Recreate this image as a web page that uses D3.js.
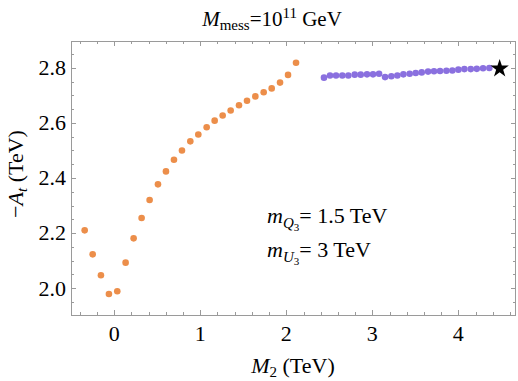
<!DOCTYPE html>
<html>
<head>
<meta charset="utf-8">
<script src="https://cdn.jsdelivr.net/npm/d3@7"></script>
<style>
  body { margin: 0; background: #fff; }
  text { font-family: "Liberation Serif", "DejaVu Serif", serif; fill: #000; }
</style>
</head>
<body>
<div id="chart"></div>
<script>
var width = 518,
    height = 381;

// orange series (M2 < ~2.1 TeV)
var orangeX = [-0.344, -0.251, -0.155, -0.062, 0.035, 0.132, 0.225, 0.318, 0.411, 0.508,
               0.601, 0.694, 0.787, 0.884, 0.977, 1.074, 1.167, 1.260, 1.353, 1.450,
               1.543, 1.640, 1.737, 1.830, 1.927, 2.020, 2.113];
var orangeY = [2.210, 2.123, 2.047, 1.979, 1.989, 2.093, 2.181, 2.255, 2.320, 2.377,
               2.424, 2.466, 2.500, 2.533, 2.558, 2.584, 2.608, 2.627, 2.645, 2.664,
               2.680, 2.696, 2.711, 2.725, 2.746, 2.774, 2.818];

// purple series
var purpleX = [2.438, 2.508, 2.578, 2.651, 2.721, 2.795, 2.865, 2.938, 3.008, 3.078,
               3.148, 3.221, 3.291, 3.361, 3.434, 3.504, 3.574, 3.648, 3.717, 3.787,
               3.861, 3.930, 4.000, 4.070, 4.144, 4.214, 4.287, 4.360];
var purpleY = [2.764, 2.772, 2.772, 2.772, 2.772, 2.775, 2.775, 2.776, 2.776, 2.778,
               2.766, 2.769, 2.772, 2.776, 2.778, 2.781, 2.783, 2.786, 2.787, 2.788,
               2.789, 2.790, 2.793, 2.795, 2.795, 2.796, 2.798, 2.799];

var starPoint = {x: 4.48, y: 2.797};

var xTicks = [0, 1, 2, 3, 4];
var yTicks = [2.0, 2.2, 2.4, 2.6, 2.8];

var pLeft = 71, pRight = 516, pTop = 41, pBottom = 315;

var x = d3.scaleLinear().domain([-0.503, 4.67]).range([pLeft, pRight]);
var y = d3.scaleLinear().domain([1.903, 2.897]).range([pBottom, pTop]);

var svg = d3.select("#chart").append("svg")
    .attr("width", width)
    .attr("height", height);

var frameColor = "#9a9a9a";

// frame
svg.append("rect")
    .attr("x", pLeft + 0.5).attr("y", pTop + 0.5)
    .attr("width", pRight - pLeft - 1).attr("height", pBottom - pTop)
    .attr("fill", "none")
    .attr("stroke", frameColor)
    .attr("stroke-width", 1);

// minor + major ticks, pointing inward, all four sides
var xMinor = d3.range(-0.4, 4.61, 0.2).map(function (v) { return Math.round(v * 10) / 10; });
var yMinor = d3.range(1.95, 2.89, 0.05).map(function (v) { return Math.round(v * 100) / 100; });

function isMajor(v, list) {
    return list.some(function (t) { return Math.abs(t - v) < 1e-6; });
}

var ticks = svg.append("g").attr("stroke", frameColor).attr("stroke-width", 1);

xMinor.forEach(function (v) {
    var len = isMajor(v, xTicks) ? 5 : 3;
    var px = Math.round(x(v)) + 0.5;
    ticks.append("line").attr("x1", px).attr("x2", px).attr("y1", pBottom).attr("y2", pBottom - len);
    ticks.append("line").attr("x1", px).attr("x2", px).attr("y1", pTop).attr("y2", pTop + len);
});
yMinor.forEach(function (v) {
    var len = isMajor(v, yTicks) ? 5 : 3;
    var py = Math.round(y(v)) + 0.5;
    ticks.append("line").attr("y1", py).attr("y2", py).attr("x1", pLeft).attr("x2", pLeft + len);
    ticks.append("line").attr("y1", py).attr("y2", py).attr("x1", pRight).attr("x2", pRight - len);
});

// tick labels
svg.selectAll(".xlab")
    .data(xTicks)
    .enter()
    .append("text")
    .attr("x", function (d) { return x(d); })
    .attr("y", 341)
    .attr("text-anchor", "middle")
    .attr("font-size", 22)
    .text(function (d) { return d; });

svg.selectAll(".ylab")
    .data(yTicks)
    .enter()
    .append("text")
    .attr("x", 66)
    .attr("y", function (d) { return y(d); })
    .attr("dy", "0.33em")
    .attr("text-anchor", "end")
    .attr("font-size", 22)
    .text(function (d) { return d3.format(".1f")(d); });

// points
var orange = orangeX.map(function (v, i) { return {x: v, y: orangeY[i]}; });
var purple = purpleX.map(function (v, i) { return {x: v, y: purpleY[i]}; });

svg.selectAll(".orange")
    .data(orange)
    .enter()
    .append("circle")
    .attr("cx", function (d) { return x(d.x); })
    .attr("cy", function (d) { return y(d.y); })
    .attr("r", 3.3)
    .style("fill", "#ec8e4a");

svg.selectAll(".purple")
    .data(purple)
    .enter()
    .append("circle")
    .attr("cx", function (d) { return x(d.x); })
    .attr("cy", function (d) { return y(d.y); })
    .attr("r", 3.3)
    .style("fill", "#8a70df");

svg.append("path")
    .attr("d", d3.symbol().type(d3.symbolStar).size(105)())
    .attr("transform", "translate(" + x(starPoint.x) + "," + y(starPoint.y) + ")")
    .style("fill", "#000");

// title
var title = svg.append("text")
    .attr("x", 272).attr("y", 26)
    .attr("text-anchor", "middle")
    .attr("font-size", 21);
title.append("tspan").attr("font-style", "italic").text("M");
title.append("tspan").attr("font-size", 15).attr("dy", 4).text("mess");
title.append("tspan").attr("dy", -4).text("=10");
title.append("tspan").attr("font-size", 15).attr("dy", -8).text("11");
title.append("tspan").attr("dy", 8).text(" GeV");

// x label
var xl = svg.append("text")
    .attr("x", 293).attr("y", 373)
    .attr("text-anchor", "middle")
    .attr("font-size", 22);
xl.append("tspan").attr("font-style", "italic").text("M");
xl.append("tspan").attr("font-size", 15).attr("dy", 4).text("2");
xl.append("tspan").attr("dy", -4).text(" (TeV)");

// y label
var yl = svg.append("text")
    .attr("transform", "translate(23,174) rotate(-90)")
    .attr("text-anchor", "middle")
    .attr("font-size", 22);
yl.append("tspan").text("\u2212");
yl.append("tspan").attr("font-style", "italic").text("A");
yl.append("tspan").attr("font-style", "italic").attr("font-size", 15).attr("dy", 4).text("t");
yl.append("tspan").attr("dy", -4).text(" (TeV)");

// annotation
function massLabel(yPos, letter, value) {
    var t = svg.append("text")
        .attr("x", 267).attr("y", yPos)
        .attr("font-size", 22);
    t.append("tspan").attr("font-style", "italic").text("m");
    t.append("tspan").attr("font-style", "italic").attr("font-size", 15).attr("dy", 5).text(letter);
    t.append("tspan").attr("font-size", 11).attr("dy", 3).text("3");
    t.append("tspan").attr("dy", -8).text("= " + value + " TeV");
}
massLabel(223, "Q", "1.5");
massLabel(257, "U", "3");
</script>
</body>
</html>
